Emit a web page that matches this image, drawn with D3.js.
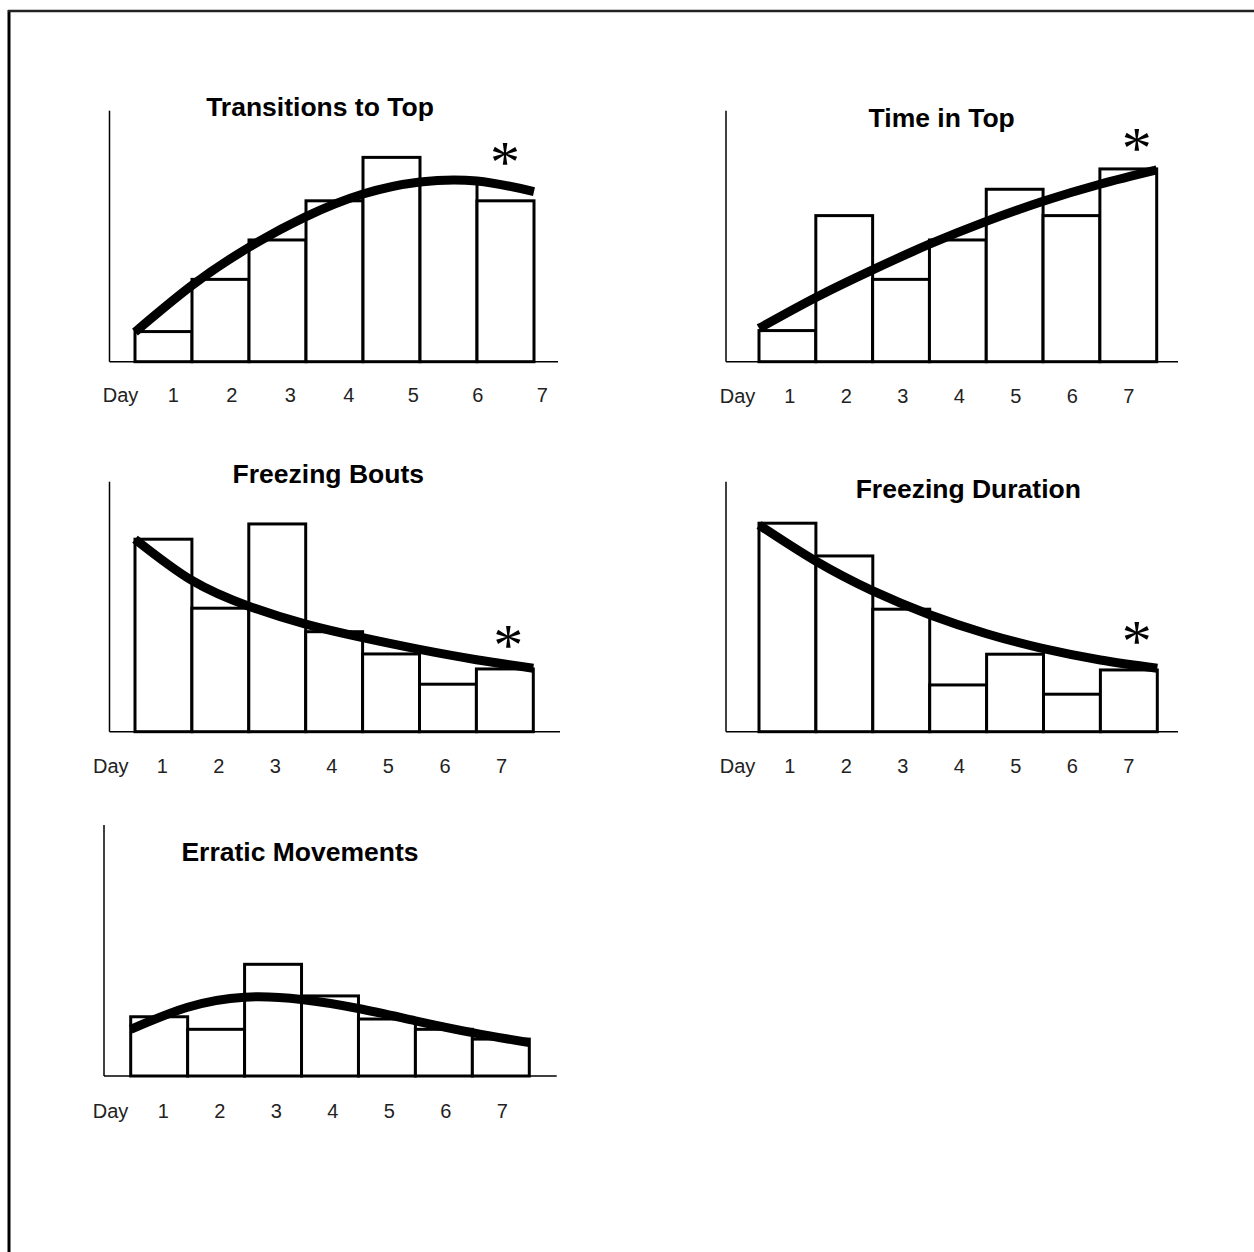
<!DOCTYPE html>
<html>
<head>
<meta charset="utf-8">
<script src="https://cdn.jsdelivr.net/npm/d3@7"></script>
<style>
  html, body { margin: 0; padding: 0; background: #fff; }
  svg { display: block; }
</style>
</head>
<body>
<svg id="chart" width="1254" height="1252"></svg>
<script>
// ---------- DATA (values as % of the y-axis height) ----------
const days = [1, 2, 3, 4, 5, 6, 7];
const dayLabel = "Day";
const titles = ["Transitions to Top", "Time in Top", "Freezing Bouts", "Freezing Duration", "Erratic Movements"];

// bar heights per day
const transitionsBars = [12.0, 32.8, 48.5, 64.1, 81.4, 72.2, 64.1];
const timeTopBars     = [12.4, 58.2, 32.8, 48.5, 68.7, 58.2, 76.8];
const freezeBoutBars  = [77.0, 49.4, 83.1, 40.0, 31.1, 19.0, 25.1];
const freezeDurBars   = [83.4, 70.3, 49.0, 18.7, 31.0, 15.0, 24.7];
const erraticBars     = [23.6, 18.6, 44.5, 31.9, 22.7, 18.6, 14.7];

// fitted trend line, read at the day boundaries 0.5, 1.5, ... 7.5
const fitX = [0.5, 1.5, 2.5, 3.5, 4.5, 5.5, 6.5, 7.5];
const transitionsFit = [11.8, 30.4, 45.6, 57.8, 66.8, 71.6, 72.0, 67.8];
const timeTopFit     = [13.3, 25.6, 36.6, 46.8, 55.9, 63.9, 70.7, 76.4];
const freezeBoutFit  = [77.0, 60.5, 50.2, 43.0, 37.6, 32.9, 28.8, 25.4];
const freezeDurFit   = [82.7, 68.2, 56.3, 46.8, 39.2, 33.2, 28.7, 25.4];
const erraticFit     = [18.6, 27.4, 31.4, 30.5, 26.9, 22.0, 17.3, 13.3];

// significance marker
const sigMark = [true, true, true, true, false];

// ---------- LAYOUT (positions / styles) ----------
const panels = [
  { bars: transitionsBars, fit: transitionsFit,
    axisX: 109.5, axisTop: 110.7, base: 361.7, axisRight: 558,
    barL: 135, barR: 534, titleX: 320, titleY: 116,
    dayX: 120.5, labY: 401.7, labDom: [1, 4, 7], labRange: [172.7, 348.3, 541.7],
    star: [505, 154] },
  { bars: timeTopBars, fit: timeTopFit,
    axisX: 726, axisTop: 110.7, base: 361.7, axisRight: 1178,
    barL: 759, barR: 1156.7, titleX: 941.7, titleY: 127.3,
    dayX: 737.5, labY: 403.3, labDom: [1, 7], labRange: [789.3, 1128.3],
    star: [1136.7, 140] },
  { bars: freezeBoutBars, fit: freezeBoutFit,
    axisX: 109.5, axisTop: 481.7, base: 731.7, axisRight: 560,
    barL: 135, barR: 533.3, titleX: 328.3, titleY: 483.3,
    dayX: 110.8, labY: 773.3, labDom: [1, 7], labRange: [161.7, 501],
    star: [508.3, 636.7] },
  { bars: freezeDurBars, fit: freezeDurFit,
    axisX: 726, axisTop: 481.7, base: 731.7, axisRight: 1178,
    barL: 759, barR: 1157.3, titleX: 968.3, titleY: 498.3,
    dayX: 737.5, labY: 773.3, labDom: [1, 7], labRange: [789.3, 1128.3],
    star: [1136.7, 633.3] },
  { bars: erraticBars, fit: erraticFit,
    axisX: 104, axisTop: 825, base: 1076, axisRight: 556.7,
    barL: 130.7, barR: 529.3, titleX: 300, titleY: 860.7,
    dayX: 110.5, labY: 1117.7, labDom: [1, 7], labRange: [162.7, 501.7],
    star: null }
];

const svg = d3.select("#chart");

// page frame (top and left rules)
svg.append("line").attr("x1", 9).attr("x2", 9).attr("y1", 10).attr("y2", 1252)
  .attr("stroke", "#000").attr("stroke-width", 3);
svg.append("line").attr("x1", 8).attr("x2", 1254).attr("y1", 11).attr("y2", 11)
  .attr("stroke", "#222").attr("stroke-width", 2.5);

panels.forEach((p, i) => {
  const g = svg.append("g");
  const x = d3.scaleLinear().domain([0.5, 7.5]).range([p.barL, p.barR]);
  const y = d3.scaleLinear().domain([0, 100]).range([p.base, p.axisTop]);
  const xLab = d3.scaleLinear().domain(p.labDom).range(p.labRange);

  // axes lines
  g.append("line").attr("x1", p.axisX).attr("x2", p.axisX)
    .attr("y1", y(100)).attr("y2", y(0))
    .attr("stroke", "#000").attr("stroke-width", 1.5);
  g.append("line").attr("x1", p.axisX).attr("x2", p.axisRight)
    .attr("y1", y(0)).attr("y2", y(0))
    .attr("stroke", "#000").attr("stroke-width", 1.5);

  // bars
  g.selectAll("rect.bar").data(p.bars).join("rect")
    .attr("class", "bar")
    .attr("x", (d, j) => x(days[j] - 0.5))
    .attr("width", (d, j) => x(days[j] + 0.5) - x(days[j] - 0.5))
    .attr("y", d => y(d))
    .attr("height", d => y(0) - y(d))
    .attr("fill", "#fff")
    .attr("stroke", "#000")
    .attr("stroke-width", 3);

  // fitted curve
  const line = d3.line()
    .x((d, j) => x(fitX[j]))
    .y(d => y(d))
    .curve(d3.curveNatural);
  g.append("path").datum(p.fit)
    .attr("d", line)
    .attr("fill", "none")
    .attr("stroke", "#000")
    .attr("stroke-width", 9)
    .attr("stroke-linecap", "butt");

  // title
  g.append("text")
    .attr("x", p.titleX).attr("y", p.titleY)
    .attr("text-anchor", "middle")
    .attr("font-family", "Liberation Sans, Arial, sans-serif")
    .attr("font-weight", "bold")
    .attr("font-size", 26.5)
    .attr("fill", "#000")
    .text(titles[i]);

  // x labels
  const axis = d3.axisBottom(xLab).tickValues(days).tickFormat(d3.format("d"))
    .tickSize(0).tickPadding(0);
  const ag = g.append("g").attr("transform", `translate(0,${p.labY})`).call(axis);
  ag.select(".domain").remove();
  ag.selectAll("text")
    .attr("dy", null)
    .attr("y", 0)
    .attr("font-family", "Liberation Sans, Arial, sans-serif")
    .attr("font-size", 20)
    .attr("fill", "#222");
  g.append("text")
    .attr("x", p.dayX).attr("y", p.labY)
    .attr("text-anchor", "middle")
    .attr("font-family", "Liberation Sans, Arial, sans-serif")
    .attr("font-size", 20)
    .attr("fill", "#222")
    .text(dayLabel);

  // significance asterisk
  if (sigMark[i] && p.star) {
    g.append("text")
      .attr("x", p.star[0]).attr("y", p.star[1] + 28)
      .attr("text-anchor", "middle")
      .attr("font-family", "Liberation Serif, Times New Roman, serif")
      .attr("font-size", 60)
      .attr("fill", "#000")
      .text("*");
  }
});
</script>
</body>
</html>
